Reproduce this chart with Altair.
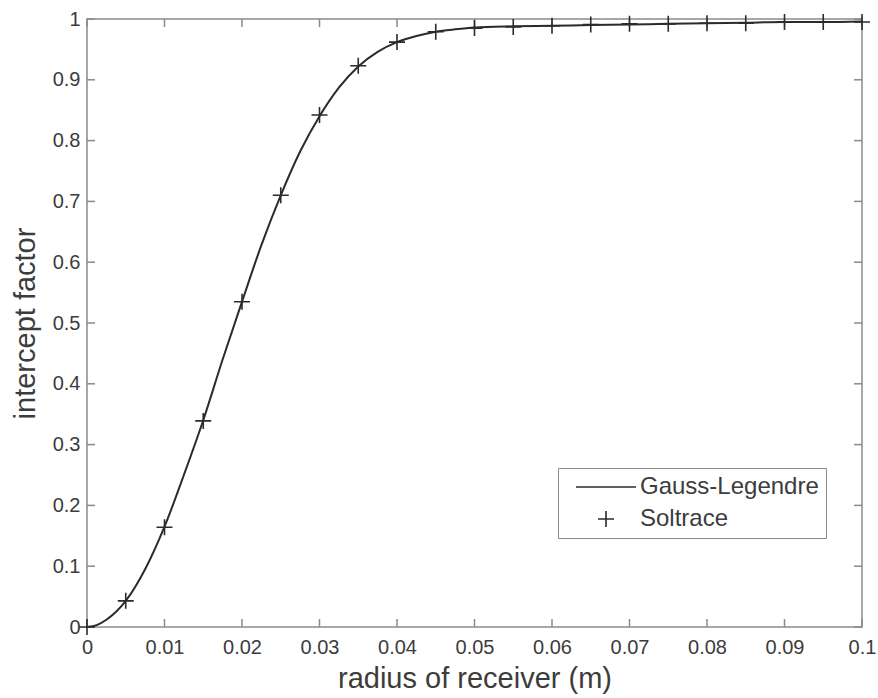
import altair as alt
import pandas as pd

# Gauss-Legendre curve
radius_curve = [0, 0.00125, 0.0025, 0.00375, 0.005, 0.0075, 0.01, 0.0125, 0.015, 0.0175,
                0.02, 0.0225, 0.025, 0.0275, 0.03, 0.0325, 0.035, 0.0375, 0.04, 0.0425,
                0.045, 0.0475, 0.05, 0.055, 0.06, 0.065, 0.07, 0.075, 0.08, 0.085,
                0.09, 0.095, 0.1]
factor_curve = [0, 0.003, 0.012, 0.025, 0.043, 0.095, 0.165, 0.25, 0.34, 0.44,
                0.535, 0.628, 0.71, 0.782, 0.84, 0.887, 0.922, 0.946, 0.962, 0.972,
                0.979, 0.983, 0.986, 0.988, 0.989, 0.990, 0.991, 0.992, 0.993, 0.994,
                0.995, 0.995, 0.996]

# Soltrace points
radius_pts = [0, 0.005, 0.01, 0.015, 0.02, 0.025, 0.03, 0.035, 0.04, 0.045, 0.05,
              0.055, 0.06, 0.065, 0.07, 0.075, 0.08, 0.085, 0.09, 0.095, 0.1]
factor_pts = [0, 0.043, 0.164, 0.339, 0.535, 0.71, 0.842, 0.923, 0.962, 0.979, 0.985,
              0.987, 0.989, 0.991, 0.992, 0.992, 0.993, 0.993, 0.995, 0.995, 0.995]

x_ticks = [0, 0.01, 0.02, 0.03, 0.04, 0.05, 0.06, 0.07, 0.08, 0.09, 0.1]
y_ticks = [0, 0.1, 0.2, 0.3, 0.4, 0.5, 0.6, 0.7, 0.8, 0.9, 1]
series_names = ["Gauss-Legendre", "Soltrace"]

W, H = 775, 608
TICK = 8
FRAME = "#8a8a8a"
TEXT = "#3c3c3c"
INK = "#2b2b2b"
FONT = "Liberation Sans"

LINE_PATH = "M-3.75,0L3.75,0"
PLUS_PATH = "M-1,0L1,0M0,-1L0,1"

df_curve = pd.DataFrame({"r": radius_curve, "f": factor_curve})
df_pts = pd.DataFrame({"r": radius_pts, "f": factor_pts, "series": series_names[1]})
df_xt = pd.DataFrame({"r": x_ticks})
df_yt = pd.DataFrame({"f": y_ticks})

xscale = alt.Scale(domain=[0, 0.1], nice=False, zero=False)
yscale = alt.Scale(domain=[0, 1], nice=False, zero=False)

x_axis = alt.Axis(values=x_ticks, format="~g", grid=False, ticks=False, domain=False,
                  labelFontSize=20, labelFont=FONT, labelColor=TEXT, labelPadding=10,
                  labelFlush=False, title="radius of receiver (m)", titleFontSize=29,
                  titleFont=FONT, titleFontWeight="normal", titleColor=TEXT,
                  titleX=W / 2, titleY=60, titleBaseline="alphabetic")
y_axis = alt.Axis(values=y_ticks, format="~g", grid=False, ticks=False, domain=False,
                  labelFontSize=20, labelFont=FONT, labelColor=TEXT, labelPadding=7,
                  labelFlush=False, title="intercept factor", titleFontSize=29,
                  titleFont=FONT, titleFontWeight="normal", titleColor=TEXT,
                  titleX=-62, titleY=H / 2, titleAngle=-90, titleAlign="center",
                  titleBaseline="middle")

X = alt.X("r:Q", scale=xscale, axis=x_axis)
Y = alt.Y("f:Q", scale=yscale, axis=y_axis)

curve = alt.Chart(df_curve).mark_line(color=INK, strokeWidth=2, interpolate="monotone").encode(
    x=X, y=Y)

points = alt.Chart(df_pts).mark_point(filled=False, size=256, strokeWidth=1.6, color=INK, opacity=1).encode(
    x=X, y=Y,
    shape=alt.Shape(
        "series:N",
        scale=alt.Scale(domain=series_names, range=[LINE_PATH, PLUS_PATH]),
        legend=alt.Legend(
            title=None, orient="none", legendX=471, legendY=449,
            padding=7, strokeColor=FRAME, fillColor="white",
            labelFontSize=24, labelFont=FONT, labelColor=TEXT, labelLimit=400,
            symbolSize=256, symbolStrokeWidth=1.6, symbolStrokeColor=INK,
            symbolFillColor="transparent", symbolOffset=29, labelOffset=22,
            rowPadding=8,
        ),
    ),
)

bottom_ticks = alt.Chart(df_xt).mark_rule(color=FRAME, strokeWidth=1.5).encode(
    x=X, y=alt.value(H), y2=alt.value(H - TICK))
top_ticks = alt.Chart(df_xt).mark_rule(color=FRAME, strokeWidth=1.5).encode(
    x=X, y=alt.value(0), y2=alt.value(TICK))
left_ticks = alt.Chart(df_yt).mark_rule(color=FRAME, strokeWidth=1.5).encode(
    y=Y, x=alt.value(0), x2=alt.value(TICK))
right_ticks = alt.Chart(df_yt).mark_rule(color=FRAME, strokeWidth=1.5).encode(
    y=Y, x=alt.value(W - TICK), x2=alt.value(W))

chart = alt.layer(bottom_ticks, top_ticks, left_ticks, right_ticks, curve, points).properties(
    width=W, height=H,
    autosize=alt.AutoSizeParams(type="none"),
    padding={"left": 87, "top": 19, "right": 16, "bottom": 71},
    background="white",
).configure_view(stroke=FRAME, strokeWidth=1.5)

chart.save("out.html", embed_options={"renderer": "svg", "actions": False})
